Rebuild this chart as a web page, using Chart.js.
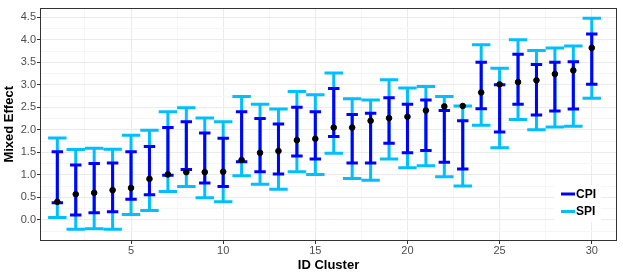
<!DOCTYPE html>
<html>
<head>
<meta charset="utf-8">
<script src="https://cdn.jsdelivr.net/npm/chart.js@4"></script>
<style>
  html, body { margin: 0; padding: 0; background: #fff; }
  #wrap { width: 623px; height: 277px; }
</style>
</head>
<body>
<div id="wrap"><canvas id="chart" width="623" height="277"></canvas></div>
<script>
const clusters = [1, 2, 3, 4, 5, 6, 7, 8, 9, 10, 11, 12, 13, 14, 15, 16, 17, 18, 19, 20, 21, 22, 23, 24, 25, 26, 27, 28, 29, 30];
const estimate = [0.40, 0.57, 0.60, 0.66, 0.71, 0.91, 1.01, 1.06, 1.06, 1.07, 1.33, 1.49, 1.53, 1.77, 1.80, 2.05, 2.05, 2.20, 2.26, 2.29, 2.43, 2.52, 2.53, 2.83, 3.01, 3.06, 3.10, 3.24, 3.32, 3.82];
const cpiLow = [0.38, 0.11, 0.16, 0.18, 0.46, 0.56, 0.99, 1.12, 0.82, 0.74, 1.29, 1.07, 1.02, 1.42, 1.35, 1.85, 1.26, 1.26, 1.70, 1.49, 1.54, 1.28, 1.13, 2.47, 1.95, 2.57, 2.33, 2.42, 2.46, 3.01];
const cpiHigh = [1.51, 1.22, 1.25, 1.26, 1.51, 1.63, 2.05, 2.18, 1.93, 1.81, 2.40, 2.25, 2.13, 2.50, 2.40, 2.92, 2.34, 2.37, 2.71, 2.57, 2.66, 2.43, 2.20, 3.50, 3.00, 3.68, 3.45, 3.50, 3.51, 4.13];
const spiLow = [0.05, -0.21, -0.20, -0.21, 0.12, 0.21, 0.63, 0.74, 0.49, 0.40, 0.98, 0.79, 0.68, 1.07, 1.01, 1.48, 0.92, 0.88, 1.35, 1.16, 1.20, 0.96, 0.75, 2.10, 1.60, 2.23, 2.00, 2.06, 2.08, 2.70];
const spiHigh = [1.82, 1.56, 1.59, 1.57, 1.88, 1.99, 2.40, 2.49, 2.26, 2.18, 2.74, 2.57, 2.46, 2.85, 2.78, 3.26, 2.69, 2.66, 3.11, 2.93, 2.96, 2.74, 2.53, 3.89, 3.37, 4.00, 3.76, 3.82, 3.86, 4.48];
const xTicks = [5, 10, 15, 20, 25, 30];
const yTicks = [0, 0.5, 1, 1.5, 2, 2.5, 3, 3.5, 4, 4.5];

const CPI_COLOR = "#0000FF";
const SPI_COLOR = "#00BFFF";
const GRID_MAJOR = "#EBEBEB";
const GRID_MINOR = "#F5F5F5";

const withMinor = (major, lo, hi) => {
  const step = major[1] - major[0];
  const out = [];
  for (let v = major[0] - step; v <= major[major.length - 1] + step; v += step / 2) {
    if (v >= lo && v <= hi) out.push(+v.toFixed(3));
  }
  return out;
};
const isMajor = (list, v) => list.some((t) => Math.abs(t - v) < 1e-6);

const X_MIN = 0.06, X_MAX = 31.37, Y_MIN = -0.47, Y_MAX = 4.715;

const errorBars = {
  id: "errorBars",
  beforeDatasetsDraw(chart) {
    const { ctx, scales: { x, y } } = chart;
    const draw = (lows, highs, color, halfWidth) => {
      ctx.strokeStyle = color;
      ctx.lineWidth = 3;
      ctx.lineCap = "butt";
      clusters.forEach((c, i) => {
        const px = x.getPixelForValue(c);
        const x0 = x.getPixelForValue(c - halfWidth);
        const x1 = x.getPixelForValue(c + halfWidth);
        const yl = y.getPixelForValue(lows[i]);
        const yh = y.getPixelForValue(highs[i]);
        ctx.beginPath();
        ctx.moveTo(px, yl); ctx.lineTo(px, yh);
        ctx.moveTo(x0, yl); ctx.lineTo(x1, yl);
        ctx.moveTo(x0, yh); ctx.lineTo(x1, yh);
        ctx.stroke();
      });
    };
    ctx.save();
    draw(spiLow, spiHigh, SPI_COLOR, 0.5);
    draw(cpiLow, cpiHigh, CPI_COLOR, 0.31);
    ctx.restore();
  },
  afterDraw(chart) {
    const { ctx, chartArea: a } = chart;
    ctx.save();
    // panel border
    ctx.strokeStyle = "#333333";
    ctx.lineWidth = 1;
    ctx.strokeRect(Math.round(a.left) + 0.5, Math.round(a.top) + 0.5,
      Math.round(a.right - a.left) - 1, Math.round(a.bottom - a.top) - 1);
    // legend
    const lx = a.right - 63, ly = a.bottom - 56;
    ctx.fillStyle = "#fff";
    ctx.fillRect(lx, ly, 47, 37);
    const items = [["CPI", CPI_COLOR], ["SPI", SPI_COLOR]];
    ctx.font = "bold 12px 'Liberation Sans', Arial, sans-serif";
    ctx.textBaseline = "middle";
    items.forEach(([label, color], i) => {
      const cy = ly + 9 + i * 17.5;
      ctx.strokeStyle = color;
      ctx.lineWidth = 3;
      ctx.beginPath();
      ctx.moveTo(lx + 7, cy); ctx.lineTo(lx + 21, cy);
      ctx.stroke();
      ctx.fillStyle = "#000";
      ctx.fillText(label, lx + 22, cy + 0.5);
    });
    ctx.restore();
  },
};

new Chart(document.getElementById("chart"), {
  type: "scatter",
  data: {
    datasets: [{
      label: "Estimate",
      data: clusters.map((c, i) => ({ x: c, y: estimate[i] })),
      backgroundColor: "#000",
      borderColor: "#000",
      pointRadius: 2.8,
      pointHoverRadius: 2.8,
    }],
  },
  options: {
    responsive: false,
    animation: false,
    events: [],
    layout: { padding: { top: 6, right: 6, left: 0, bottom: 0 } },
    plugins: { legend: { display: false }, tooltip: { enabled: false } },
    scales: {
      x: {
        type: "linear",
        min: X_MIN, max: X_MAX,
        afterFit(s) { s.height = 36; },
        afterBuildTicks(s) { s.ticks = withMinor(xTicks, X_MIN, X_MAX).map((v) => ({ value: v })); },
        border: { display: false },
        grid: {
          color: (c) => (c.tick && isMajor(xTicks, c.tick.value) ? GRID_MAJOR : GRID_MINOR),
          tickColor: (c) => (c.tick && isMajor(xTicks, c.tick.value) ? "#333333" : "rgba(0,0,0,0)"),
          tickLength: 3,
        },
        ticks: {
          autoSkip: false, maxRotation: 0, padding: 0,
          color: "#4D4D4D",
          font: { family: "'Liberation Sans', Arial, sans-serif", size: 11 },
          callback: (v) => (isMajor(xTicks, v) ? String(v) : ""),
        },
        title: {
          display: true, text: "ID Cluster", color: "#000",
          font: { family: "'Liberation Sans', Arial, sans-serif", size: 13, weight: "bold" },
        },
      },
      y: {
        type: "linear",
        min: Y_MIN, max: Y_MAX,
        afterFit(s) { s.width = 40; },
        afterBuildTicks(s) { s.ticks = withMinor(yTicks, Y_MIN, Y_MAX).map((v) => ({ value: v })); },
        border: { display: false },
        grid: {
          color: (c) => (c.tick && isMajor(yTicks, c.tick.value) ? GRID_MAJOR : GRID_MINOR),
          tickColor: (c) => (c.tick && isMajor(yTicks, c.tick.value) ? "#333333" : "rgba(0,0,0,0)"),
          tickLength: 3,
        },
        ticks: {
          autoSkip: false, padding: 1,
          color: "#4D4D4D",
          font: { family: "'Liberation Sans', Arial, sans-serif", size: 11 },
          callback: (v) => (isMajor(yTicks, v) ? v.toFixed(1) : ""),
        },
        title: {
          display: true, text: "Mixed Effect", color: "#000",
          padding: { top: 2, bottom: 0 },
          font: { family: "'Liberation Sans', Arial, sans-serif", size: 13, weight: "bold" },
        },
      },
    },
  },
  plugins: [errorBars],
});
</script>
</body>
</html>
